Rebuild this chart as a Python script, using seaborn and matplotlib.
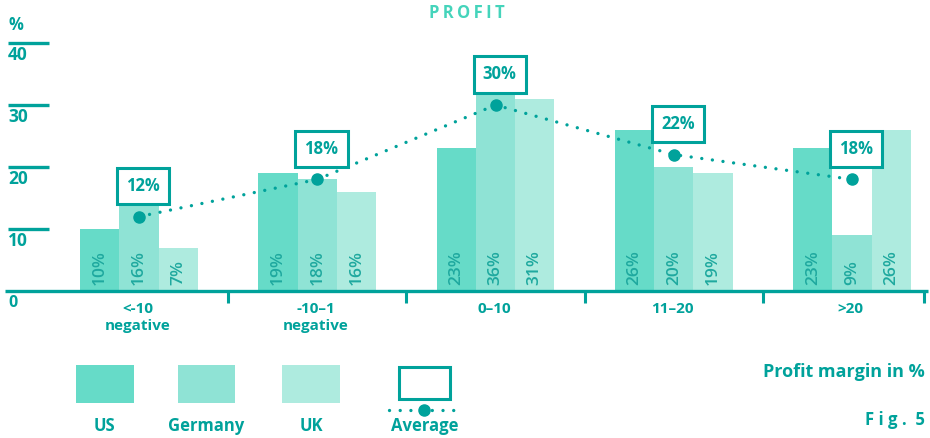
import numpy as np
import pandas as pd
import matplotlib.pyplot as plt
import seaborn as sns
from matplotlib.patches import Rectangle

# data
margins = ["<-10\nnegative", "-10–1\nnegative", "0–10", "11–20", ">20"]
countries = ["US", "Germany", "UK"]
us = [10, 19, 23, 26, 23]
germany = [16, 18, 36, 20, 9]
uk = [7, 16, 31, 19, 26]
average = [12, 18, 30, 22, 18]
y_ticks = [10, 20, 30, 40]

TEAL = "#00a29b"
TITLE = "#45d4bb"
LABEL = "#1fa99f"
palette = ["#66dbc8", "#8fe3d5", "#aeebdf"]

sns.set_theme(style="white")
plt.rcParams["font.family"] = ["Open Sans", "DejaVu Sans"]
plt.rcParams["font.weight"] = "bold"

df = pd.DataFrame({"margin": margins, "US": us, "Germany": germany, "UK": uk})
df = df.melt(id_vars="margin", var_name="country", value_name="share")

fig = plt.figure(figsize=(9.3, 4.38), dpi=100)
ax = fig.add_axes([5 / 930, 147 / 438, 923 / 930, 248 / 438])

sns.barplot(data=df, x="margin", y="share", hue="country", order=margins,
            hue_order=countries, palette=palette, width=0.66, gap=0,
            saturation=1, linewidth=0, legend=False, ax=ax)

# rotated value labels at the foot of each bar
for container, values in zip(ax.containers, [us, germany, uk]):
    for bar, v in zip(container, values):
        ax.text(bar.get_x() + bar.get_width() / 2, 1.0, f"{v}%", rotation=90,
                ha="center", va="bottom", fontsize=12.5, color=LABEL, fontweight="semibold")

# average line with boxed labels
xpos = np.arange(len(margins))
ax.plot(xpos, average, color=TEAL, linestyle=(0, (0.01, 3.2)), linewidth=2.4,
        dash_capstyle="round", zorder=4)
ax.plot(xpos, average, "o", color=TEAL, markersize=8, zorder=5)
for x, v in zip(xpos, average):
    ax.annotate(f"{v}%", (x, v), xytext=(3, 22), textcoords="offset points",
                ha="center", va="center", fontsize=12, color=TEAL, fontweight="bold",
                zorder=6,
                bbox=dict(boxstyle="square,pad=0.55", fc="white", ec=TEAL, lw=2.2))

# axis line, separators, short grid marks
xmin, xmax = -0.752, 4.426
ax.hlines(0, xmin, xmax, color=TEAL, lw=2.4, clip_on=False, zorder=3)
ax.vlines([0.5, 1.5, 2.5, 3.5, 4.405], -1.9, 0, color=TEAL, lw=2.2, clip_on=False)
ax.hlines(y_ticks, -0.735, -0.505, color=TEAL, lw=2.4, clip_on=False)
for t in y_ticks:
    ax.annotate(str(t), (-0.735, t), xytext=(0, -2), textcoords="offset points",
                ha="left", va="top", fontsize=12.5, color=TEAL, fontweight="bold")
ax.annotate("0", (-0.735, 0), xytext=(0, -3), textcoords="offset points",
            ha="left", va="top", fontsize=11.5, color=TEAL, fontweight="bold")
for x, lab in zip(xpos, margins):
    ax.annotate(lab, (x, 0), xytext=(-1, -8), textcoords="offset points",
                ha="center", va="top", fontsize=11, color=TEAL, fontweight="bold",
                linespacing=1.25)

ax.set_xlim(xmin, xmax)
ax.set_ylim(0, 40)
ax.set_xticks([])
ax.set_yticks([])
ax.set_xlabel("")
ax.set_ylabel("")
sns.despine(ax=ax, left=True, bottom=True)

# overlay in pixel coordinates for title, legend and footer
lax = fig.add_axes([0, 0, 1, 1])
lax.set_xlim(0, 930)
lax.set_ylim(438, 0)
lax.axis("off")

lax.text(467, 13, "\u2009".join("PROFIT"), ha="center", va="center",
         fontsize=12, color=TITLE, fontweight="bold")
lax.text(8, 25, "%", ha="left", va="center", fontsize=12, color=TEAL, fontweight="bold")

swatches = [(76, 134), (178, 235), (282, 340)]
label_x = [104, 206, 311]
for (x0, x1), col, name, lx in zip(swatches, palette, countries, label_x):
    lax.add_patch(Rectangle((x0, 365), x1 - x0, 38, color=col, lw=0))
    lax.text(lx, 426, name, ha="center", va="center", fontsize=12,
             color=TEAL, fontweight="bold")
lax.add_patch(Rectangle((399, 367), 51, 32, fc="white", ec=TEAL, lw=2.2))
lax.plot([389, 462], [410, 410], color=TEAL, linestyle=(0, (0.01, 3.2)),
         linewidth=2.4, dash_capstyle="round")
lax.plot([424], [410], "o", color=TEAL, markersize=8)
lax.text(425, 426, "Average", ha="center", va="center", fontsize=12,
         color=TEAL, fontweight="bold")

lax.text(925, 372, "Profit margin in %", ha="right", va="center", fontsize=13,
         color=TEAL, fontweight="bold")
lax.text(925, 420, "F i g .  5", ha="right", va="center", fontsize=12,
         color=TEAL, fontweight="bold")

fig.savefig("out.png", dpi=100)
